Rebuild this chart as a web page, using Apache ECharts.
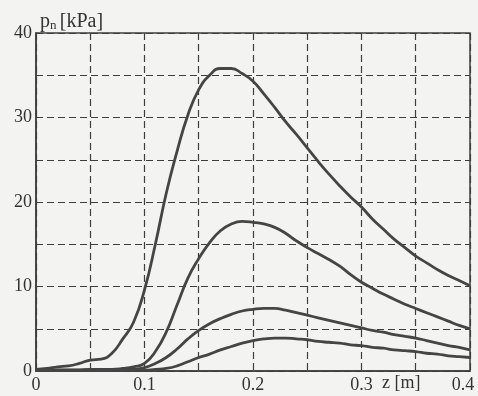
<!DOCTYPE html>
<html>
<head>
<meta charset="utf-8">
<script src="https://cdn.jsdelivr.net/npm/echarts@6/dist/echarts.min.js"></script>
<style>
  html, body { margin: 0; padding: 0; background: #f3f3f1; }
  #chart { width: 478px; height: 396px; }
</style>
</head>
<body>
<div id="chart"></div>
<script>
// z positions [m]
const zValues = [
  0.00, 0.01, 0.02, 0.03, 0.04, 0.05, 0.06, 0.07, 0.08, 0.09,
  0.10, 0.11, 0.12, 0.13, 0.14, 0.15, 0.16, 0.17, 0.18, 0.19,
  0.20, 0.21, 0.22, 0.23, 0.24, 0.25, 0.26, 0.27, 0.28, 0.29,
  0.30, 0.31, 0.32, 0.33, 0.34, 0.35, 0.36, 0.37, 0.38, 0.39, 0.40
]

// pressure curves [kPa]
const curve1 = [
  0.2, 0.3, 0.5, 0.6, 0.9, 1.3, 1.4, 2.1, 3.8, 5.8,
  9.6, 15.0, 21.0, 26.0, 30.3, 33.3, 35.0, 35.8, 35.8, 35.2,
  34.3, 32.8, 31.2, 29.5, 28.0, 26.4, 24.8, 23.3, 21.9, 20.6,
  19.4, 18.0, 16.8, 15.6, 14.6, 13.6, 12.8, 12.0, 11.3, 10.7, 10.1
]
const curve2 = [
  0.1, 0.1, 0.1, 0.1, 0.1, 0.2, 0.2, 0.2, 0.3, 0.5,
  0.9, 2.3, 4.6, 7.8, 11.0, 13.3, 15.2, 16.6, 17.4, 17.7,
  17.6, 17.4, 17.0, 16.3, 15.4, 14.6, 13.9, 13.2, 12.4, 11.4,
  10.5, 9.8, 9.1, 8.5, 7.9, 7.4, 6.9, 6.4, 5.9, 5.4, 5.0
]
const curve3 = [
  0.1, 0.1, 0.1, 0.1, 0.1, 0.1, 0.1, 0.1, 0.2, 0.2,
  0.4, 0.9, 1.6, 2.6, 3.8, 4.8, 5.6, 6.2, 6.7, 7.1,
  7.3, 7.4, 7.4, 7.2, 6.9, 6.6, 6.3, 6.0, 5.7, 5.4,
  5.1, 4.8, 4.6, 4.3, 4.1, 3.9, 3.6, 3.3, 3.0, 2.8, 2.5
]
const curve4 = [
  0.1, 0.1, 0.1, 0.1, 0.1, 0.1, 0.1, 0.1, 0.1, 0.1,
  0.1, 0.2, 0.3, 0.6, 1.1, 1.6, 2.0, 2.5, 2.9, 3.3,
  3.6, 3.8, 3.9, 3.9, 3.8, 3.7, 3.5, 3.4, 3.3, 3.1,
  3.0, 2.8, 2.7, 2.5, 2.4, 2.3, 2.1, 2.0, 1.8, 1.7, 1.6
]

const xLabels = ['0', '0.1', '0.2', '0.3', '0.4']
const yLabels = ['0', '10', '20', '30', '40']

const ink = '#3e3e3e'
const font = 'Liberation Serif'

const chart = echarts.init(document.getElementById('chart'))

function toPairs(ys) {
  return zValues.map((z, i) => [z, ys[i]])
}

function lineSeries(ys) {
  return {
    type: 'line',
    data: toPairs(ys),
    smooth: 0.5,
    showSymbol: false,
    lineStyle: { color: '#454545', width: 2.8 }
  }
}

chart.setOption({
  backgroundColor: '#f3f3f1',
  animation: false,
  grid: {
    left: 36,
    right: 8,
    top: 33,
    bottom: 25,
    outerBoundsMode: 'none',
    show: true,
    borderColor: ink,
    borderWidth: 1.5,
    backgroundColor: 'transparent'
  },
  xAxis: {
    type: 'value',
    min: 0,
    max: 0.4,
    interval: 0.05,
    axisLine: { show: true, lineStyle: { color: ink, width: 1.5 } },
    axisTick: { show: false },
    splitLine: { show: true, lineStyle: { color: ink, type: [7, 4], width: 1.2 } },
    axisLabel: {
      color: '#333',
      fontFamily: font,
      fontSize: 18,
      margin: 5,
      rich: {
        last: { fontFamily: font, fontSize: 18, color: '#333', padding: [0, 14, 0, 0] }
      },
      formatter: v => {
        const i = Math.round(v * 20)
        if (i % 2 !== 0) return ''
        const label = xLabels[i / 2]
        return i / 2 === xLabels.length - 1 ? '{last|' + label + '}' : label
      }
    }
  },
  yAxis: {
    type: 'value',
    min: 0,
    max: 40,
    interval: 5,
    name: '{p|p}{s|n} {p|[kPa]}',
    nameLocation: 'end',
    nameGap: 1,
    nameTextStyle: {
      align: 'left',
      padding: [0, 0, 0, 4],
      rich: {
        p: { fontFamily: font, fontSize: 20, color: '#333' },
        s: { fontFamily: font, fontSize: 13, color: '#333', verticalAlign: 'bottom', padding: [8, 0, 0, 0] }
      }
    },
    axisLine: { show: true, lineStyle: { color: ink, width: 1.5 } },
    axisTick: { show: false },
    splitLine: { show: true, lineStyle: { color: ink, type: [7, 4], width: 1.2 } },
    axisLabel: {
      color: '#333',
      fontFamily: font,
      fontSize: 18,
      margin: 4,
      formatter: v => (v % 10 === 0 ? yLabels[v / 10] : '')
    }
  },
  graphic: [{
    type: 'text',
    left: 382,
    top: 374,
    style: { text: 'z [m]', font: '18px "Liberation Serif"', fill: '#333' }
  }],
  series: [
    lineSeries(curve1),
    lineSeries(curve2),
    lineSeries(curve3),
    lineSeries(curve4)
  ]
})
</script>
</body>
</html>
